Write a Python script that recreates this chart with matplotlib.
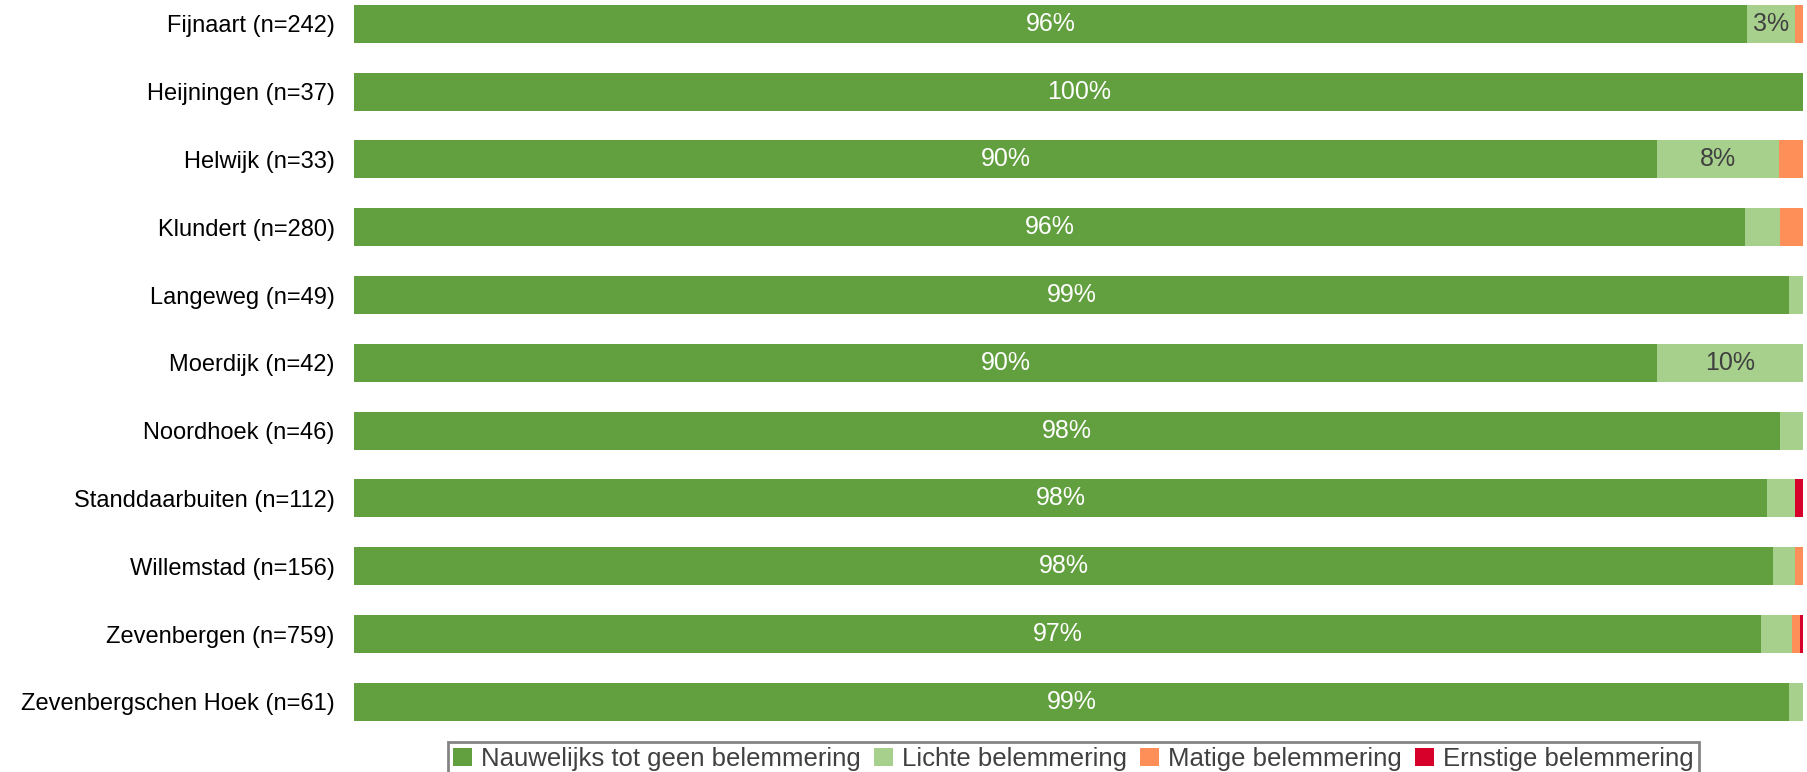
import matplotlib.pyplot as plt
import numpy as np

plt.rcParams['font.family'] = ['Liberation Sans', 'DejaVu Sans']

# --- data (percentages) ---
places = ["Fijnaart (n=242)", "Heijningen (n=37)", "Helwijk (n=33)", "Klundert (n=280)",
          "Langeweg (n=49)", "Moerdijk (n=42)", "Noordhoek (n=46)",
          "Standdaarbuiten (n=112)", "Willemstad (n=156)", "Zevenbergen (n=759)",
          "Zevenbergschen Hoek (n=61)"]
geen = [96.1, 100.0, 89.9, 96.0, 99.0, 89.9, 98.4, 97.5, 97.9, 97.1, 99.0]
lichte = [3.3, 0.0, 8.4, 2.4, 1.0, 10.1, 1.6, 1.9, 1.5, 2.1, 1.0]
matige = [0.6, 0.0, 1.7, 1.6, 0.0, 0.0, 0.0, 0.0, 0.6, 0.6, 0.0]
ernstige = [0.0, 0.0, 0.0, 0.0, 0.0, 0.0, 0.0, 0.6, 0.0, 0.2, 0.0]

series = ["Nauwelijks tot geen belemmering", "Lichte belemmering",
          "Matige belemmering", "Ernstige belemmering"]
colors = ["#629f3f", "#a8d08d", "#ff8f59", "#d7002a"]
label_colors = ["white", "#404040", "#404040", "white"]

fig = plt.figure(figsize=(18.07, 7.72), dpi=100)
ax = fig.add_axes([0.196, 0.06, 0.802, 0.94])

y = np.arange(len(places))
left = np.zeros(len(places))
for vals, name, col, lc in zip([geen, lichte, matige, ernstige], series, colors, label_colors):
    vals = np.array(vals)
    ax.barh(y, vals, left=left, height=0.56, color=col, label=name)
    for yi, v, l in zip(y, vals, left):
        if v >= 3:
            ax.text(l + v / 2, yi, f"{v:.0f}%", ha='center', va='center',
                    color=lc, fontsize=18)
    left += vals

ax.set_xlim(0, 100)
ax.set_ylim(len(places) - 1 + 0.35, -0.35)
ax.set_yticks(y)
ax.set_yticklabels(places, fontsize=17)
ax.tick_params(axis='y', length=0, pad=14)
ax.set_xticks([])
for s in ax.spines.values():
    s.set_visible(False)

leg = fig.legend(loc='upper center', bbox_to_anchor=(0.594, 0.039), ncol=4,
                 fontsize=18.5, frameon=True, fancybox=False, handlelength=0.75,
                 handleheight=0.75, handletextpad=0.35, columnspacing=0.5,
                 borderpad=0.2, borderaxespad=0)
leg.get_frame().set_edgecolor('#666666')
leg.get_frame().set_linewidth(2)
for t in leg.get_texts():
    t.set_color('#404040')

fig.savefig("out.png", dpi=100)
